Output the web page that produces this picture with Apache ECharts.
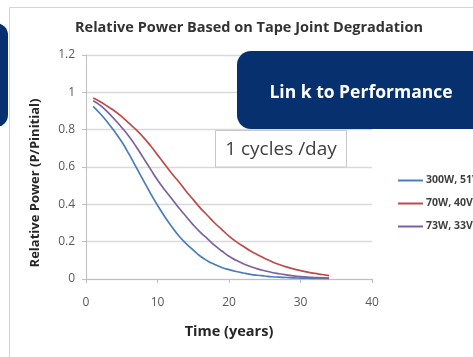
<!DOCTYPE html>
<html>
<head>
<meta charset="utf-8">
<script src="https://cdn.jsdelivr.net/npm/echarts@6/dist/echarts.min.js"></script>
<style>
html,body{margin:0;padding:0;background:#fff;}
#chart{width:473px;height:357px;}
</style>
</head>
<body>
<div id="chart"></div>
<script>
var years = [1,2,3,4,5,6,7,8,9,10,11,12,13,14,15,16,17,18,19,20,21,22,23,24,25,26,27,28,29,30,31,32,33,34];
var s300W = [0.925,0.885,0.84,0.79,0.735,0.67,0.6,0.53,0.46,0.395,0.335,0.28,0.23,0.19,0.155,0.122,0.097,0.078,0.062,0.05,0.04,0.032,0.025,0.02,0.016,0.012,0.01,0.008,0.006,0.005,0.004,0.003,0.003,0.002];
var s70W = [0.97,0.95,0.925,0.9,0.87,0.835,0.8,0.76,0.715,0.665,0.615,0.565,0.52,0.47,0.425,0.38,0.34,0.3,0.265,0.23,0.2,0.175,0.15,0.13,0.11,0.093,0.078,0.065,0.054,0.045,0.037,0.03,0.024,0.018];
var s73W = [0.955,0.93,0.895,0.855,0.812,0.765,0.71,0.65,0.59,0.53,0.478,0.43,0.38,0.335,0.29,0.25,0.215,0.18,0.15,0.122,0.1,0.082,0.067,0.054,0.044,0.035,0.028,0.022,0.017,0.013,0.01,0.008,0.006,0.005];
var seriesNames = ['300W, 51V','70W, 40V','73W, 33V'];
var titleText = 'Relative Power Based on Tape Joint Degradation';
var xName = 'Time (years)';
var yName = 'Relative Power (P/Pinitial)';
var boxText = 'Lin k to Performance';
var noteText = '1 cycles /day';

function pairs(ys){ return years.map(function(x,i){ return [x, ys[i]]; }); }

var chart = echarts.init(document.getElementById('chart'), null, {renderer:'canvas'});
var FONT = '"Open Sans", sans-serif';
chart.setOption({
  animation:false,
  backgroundColor:'#fff',
  color:['#4a7ebb','#be4b48','#7d60a0'],
  grid:{left:86,right:101,top:55,bottom:78,containLabel:false},
  xAxis:{type:'value',min:0,max:40,interval:10,
    axisLine:{show:true,lineStyle:{color:'#bfbfbf',width:1}},
    axisTick:{show:true,length:4,lineStyle:{color:'#bfbfbf'}},
    splitLine:{show:false},
    axisLabel:{color:'#595959',fontSize:12,fontFamily:FONT,margin:18}},
  yAxis:{type:'value',min:0,max:1.2,interval:0.2,
    axisLine:{show:true,lineStyle:{color:'#bfbfbf',width:1}},
    axisTick:{show:true,length:4,lineStyle:{color:'#bfbfbf'}},
    splitLine:{show:true,lineStyle:{color:'#d9d9d9',width:1.3}},
    axisLabel:{color:'#595959',fontSize:12,fontFamily:FONT,margin:11}},
  legend:{orient:'vertical',left:393,top:169,icon:'rect',itemWidth:25,itemHeight:2,itemGap:10,
    textStyle:{color:'#404040',fontSize:10.5,fontWeight:'bold',fontFamily:FONT,lineHeight:13,padding:[0,0,0,-2]},
    data:seriesNames},
  series:[
    {name:seriesNames[0],type:'line',smooth:true,showSymbol:false,data:pairs(s300W),lineStyle:{width:1.7}},
    {name:seriesNames[1],type:'line',smooth:true,showSymbol:false,data:pairs(s70W),lineStyle:{width:1.7}},
    {name:seriesNames[2],type:'line',smooth:true,showSymbol:false,data:pairs(s73W),lineStyle:{width:1.7}}
  ],
  graphic:[
    {type:'rect',z:-1,shape:{x:9.5,y:7.5,width:480,height:370},style:{fill:'none',stroke:'#d4d4d4',lineWidth:1}},
    {type:'rect',z:10,shape:{x:-20,y:23,width:28,height:104,r:12},style:{fill:'#06306e'}},
    {type:'text',z:10,style:{x:249,y:28,text:titleText,textAlign:'center',textVerticalAlign:'middle',font:'bold 14.5px "Open Sans", sans-serif',fill:'#333333'}},
    {type:'text',z:10,style:{x:229,y:332,text:xName,textAlign:'center',textVerticalAlign:'middle',font:'bold 14.5px "Open Sans", sans-serif',fill:'#262626'}},
    {type:'text',z:10,rotation:Math.PI/2,x:35,y:183,style:{x:0,y:0,text:yName,textAlign:'center',textVerticalAlign:'middle',font:'bold 13px "Open Sans", sans-serif',fill:'#262626'}},
    {type:'rect',z:10,shape:{x:237,y:51,width:260,height:78,r:14},style:{fill:'#06306e'}},
    {type:'text',z:11,style:{x:361,y:93,text:boxText,textAlign:'center',textVerticalAlign:'middle',font:'bold 17.5px "Open Sans", sans-serif',fill:'#ffffff'}},
    {type:'rect',z:10,shape:{x:215.5,y:130.5,width:131,height:36.5},style:{fill:'#ffffff',stroke:'#c8c8c8',lineWidth:1}},
    {type:'text',z:11,style:{x:281,y:150,text:noteText,textAlign:'center',textVerticalAlign:'middle',font:'19px "Open Sans", sans-serif',fill:'#404040'}}
  ]
});
</script>
</body>
</html>
